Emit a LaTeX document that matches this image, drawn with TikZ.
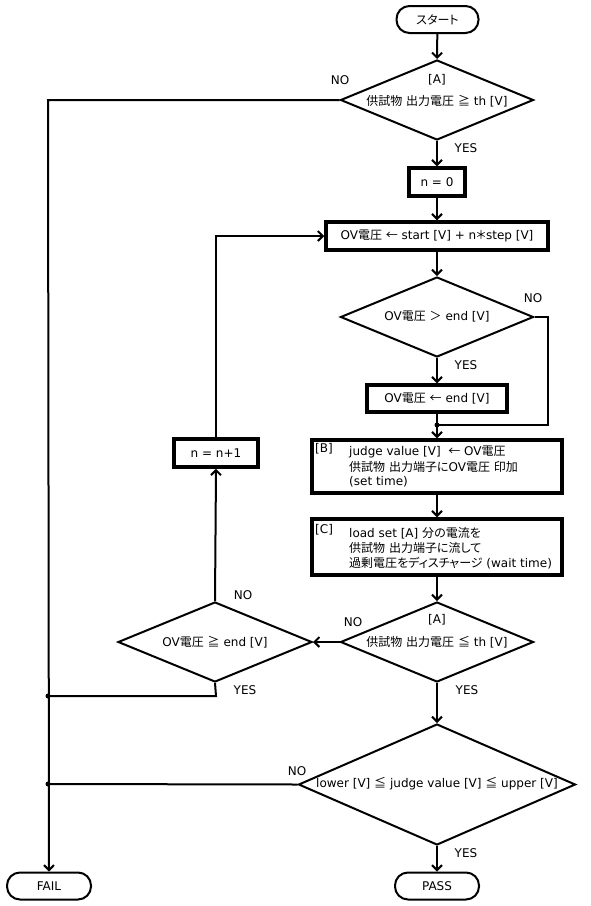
\documentclass[tikz,border=0pt]{standalone}
\usepackage{fontspec}
\setmainfont{DejaVu Sans}
\newfontfamily\cjkfont{Noto Sans CJK JP}[RawFeature=+palt]
\XeTeXinterchartokenstate=1
\newXeTeXintercharclass\cjkcls
\newcount\cjkcc
\def\setcjkcls#1#2{\cjkcc=#1 \loop\XeTeXcharclass\cjkcc=\cjkcls\relax\ifnum\cjkcc<#2 \advance\cjkcc by 1 \repeat}
\setcjkcls{"3000}{"30FF}
\setcjkcls{"4E00}{"9FFF}
\setcjkcls{"FF00}{"FFEF}
\XeTeXcharclass"2190=\cjkcls
\XeTeXcharclass"2266=\cjkcls
\XeTeXcharclass"2267=\cjkcls
\XeTeXinterchartoks 0 \cjkcls = {\begingroup\cjkfont}
\XeTeXinterchartoks 4095 \cjkcls = {\begingroup\cjkfont}
\XeTeXinterchartoks \cjkcls 0 = {\endgroup}
\XeTeXinterchartoks \cjkcls 4095 = {\endgroup}
\usetikzlibrary{shapes.geometric,arrows.meta}
\begin{document}
\begin{tikzpicture}[x=1pt,y=-1pt,
  font=\fontsize{12}{15}\selectfont,
  term/.style={draw, line width=2pt, rounded corners=13pt, minimum width=82pt, minimum height=27pt, inner sep=0pt},
  proc/.style={draw, line width=3.5pt, inner sep=0pt},
  dec/.style={draw, diamond, line width=2pt, inner sep=0pt},
  txt/.style={inner sep=0pt},
  ltxt/.style={inner sep=0pt, anchor=west},
  flow/.style={line width=2pt, -{Straight Barb[length=5pt,width=10pt]}},
  wire/.style={line width=2pt},
  dot/.style={circle, fill=black, inner sep=0pt, minimum size=5pt}
]
\useasboundingbox (0,0) rectangle (590,906);

% nodes
\node[term] (start) at (437.5,19.5) {スタート};
\node[dec, minimum width=193pt, minimum height=80pt] (d1) at (437,100) {};
\node[txt] (d1a) at (437,80) {[A]};
\node[txt] (d1b) at (437,101) {供試物 出力電圧 ≧ th [V]};
\node[proc, minimum width=56pt, minimum height=28pt] (n0) at (437,182) {n = 0};
\node[proc, minimum width=222pt, minimum height=28pt] (ov) at (437,236) {OV電圧 ← start [V] + n＊step [V]};
\node[dec, minimum width=193pt, minimum height=80pt] (d2) at (437,317) {};
\node[txt] (d2t) at (437,317) {OV電圧 ＞ end [V]};
\node[proc, minimum width=140pt, minimum height=27pt] (ove) at (437,398.5) {OV電圧 ← end [V]};
\node[dot] (j1) at (437,425) {};
\node[proc, minimum width=250pt, minimum height=53pt] (B) at (437,466.5) {};
\node[ltxt] (Bl) at (315,449) {[B]};
\node[ltxt] (Bt1) at (349,452) {judge value [V]\ \ ← OV電圧};
\node[ltxt] (Bt2) at (349,467) {供試物 出力端子にOV電圧 印加};
\node[ltxt] (Bt3) at (349,482) {(set time)};
\node[proc, minimum width=250pt, minimum height=56pt] (C) at (437,547) {};
\node[ltxt] (Cl) at (315,530) {[C]};
\node[ltxt] (Ct1) at (349,533) {load set [A] 分の電流を};
\node[ltxt] (Ct2) at (349,548) {供試物 出力端子に流して};
\node[ltxt] (Ct3) at (349,563) {過剰電圧をディスチャージ (wait time)};
\node[dec, minimum width=193pt, minimum height=80pt] (d3) at (437,642) {};
\node[txt] (d3a) at (437,620) {[A]};
\node[txt] (d3b) at (437,642) {供試物 出力電圧 ≦ th [V]};
\node[dec, minimum width=194pt, minimum height=80pt] (d5) at (215,642) {};
\node[txt] (d5t) at (215,642) {OV電圧 ≧ end [V]};
\node[proc, minimum width=84pt, minimum height=28pt] (nn) at (216,453) {n = n+1};
\node[dec, minimum width=277pt, minimum height=121pt] (d4) at (437,784.5) {};
\node[txt] (d4t) at (437,784) {lower [V] ≦ judge value [V] ≦ upper [V]};
\node[term, minimum width=84pt] (pass) at (437,886) {PASS};
\node[term, minimum width=84pt] (fail) at (49,886) {FAIL};
\coordinate (c1) at (48,100);
\node[dot] (j2) at (48,696) {};
\node[dot] (j3) at (48,784) {};
\coordinate (c2) at (548,317);
\coordinate (c3) at (548,425);
\coordinate (c4) at (216,696);

% connectors
\draw[flow] (start) -- (d1.north);
\draw[flow] (d1.south) -- (n0.north);
\draw[flow] (n0.south) -- (ov.north);
\draw[flow] (ov.south) -- (d2.north);
\draw[flow] (d2.south) -- (ove.north);
\draw[wire] (ove.south) -- (j1.center);
\draw[flow] (j1.center) -- (B.north);
\draw[wire] (d2.east) -- (c2) -- (c3) -- (j1.center);
\draw[flow] (B.south) -- (C.north);
\draw[flow] (C.south) -- (d3.north);
\draw[flow] (d3.south) -- (d4.north);
\draw[flow] (d3.west) -- (d5.east);
\draw[flow] (d5.north) -- (nn.south);
\draw[flow] (nn.north) |- (ov.west);
\draw[wire] (d5.south) -- (c4) -- (j2.center);
\draw[wire] (d4.west) -- (j3.center);
\draw[flow] (d1.west) -- (c1) -- (fail.north);
\draw[flow] (d4.south) -- (pass.north);

% branch labels
\node[txt] (l1) at (340,80) {NO};
\node[txt] (l2) at (466,148) {YES};
\node[txt] (l3) at (533,298) {NO};
\node[txt] (l4) at (466,365) {YES};
\node[txt] (l5) at (353,622) {NO};
\node[txt] (l6) at (467,690) {YES};
\node[txt] (l7) at (243,595) {NO};
\node[txt] (l8) at (245,690) {YES};
\node[txt] (l9) at (297,771) {NO};
\node[txt] (l10) at (466,853) {YES};
\end{tikzpicture}
\end{document}
